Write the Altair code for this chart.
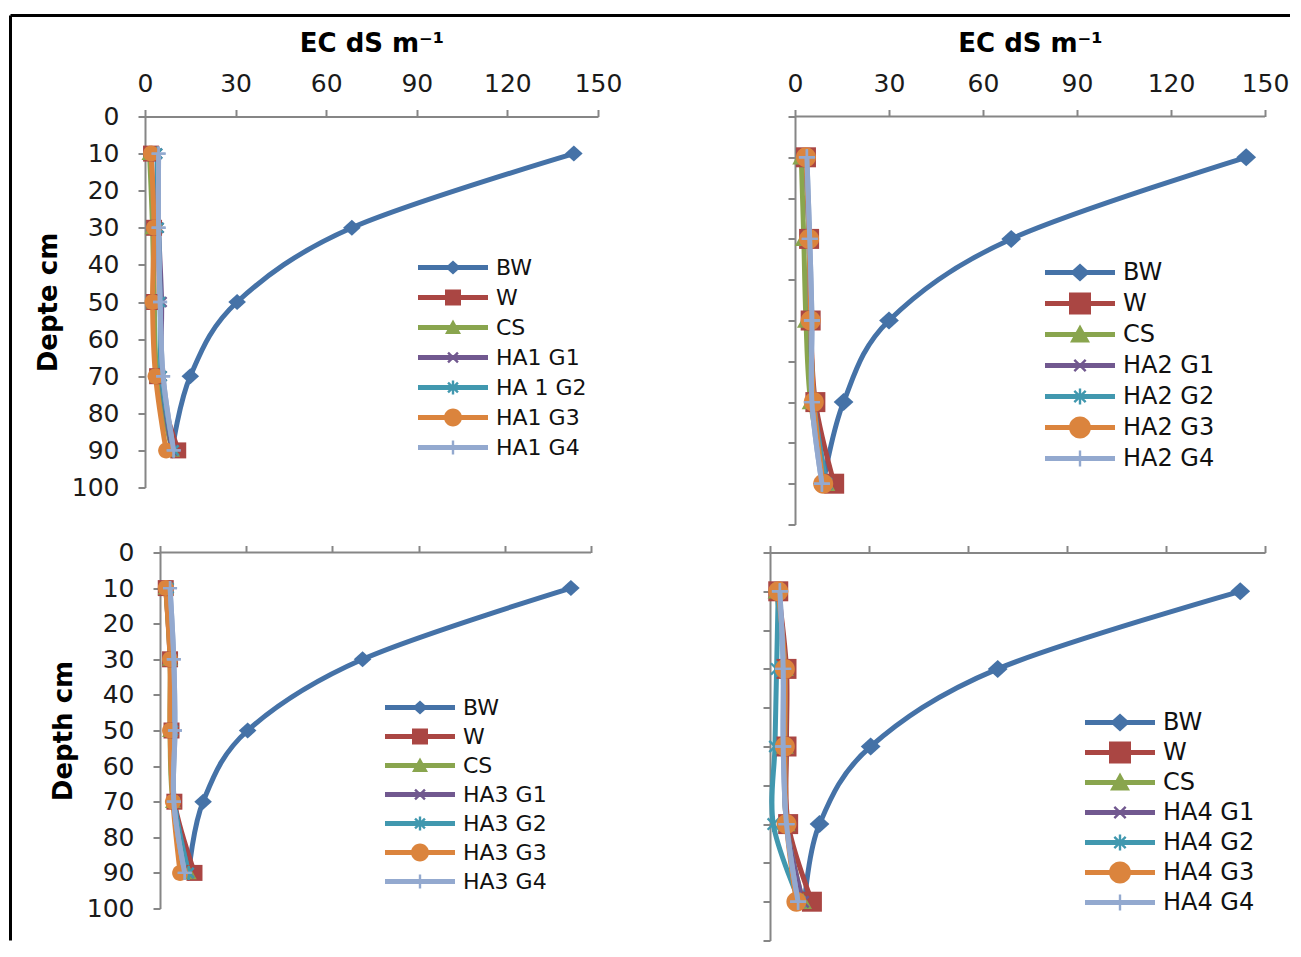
import math
import altair as alt
import pandas as pd

# ---------------- data ----------------
DEPTHS = [10, 30, 50, 70, 90]
COLORS = ["#4572A7", "#AA4643", "#89A54E", "#71588F", "#4198AF", "#DB843D", "#93A9CF"]
IND = "\u2002"

LABELS_HA1 = ["BW", "W", "CS", "HA1 G1", IND + "HA 1 G2", "HA1 G3", "HA1 G4"]
LABELS_HA2 = ["BW", "W", "CS", "HA2 G1", IND + "HA2 G2", "HA2 G3", "HA2 G4"]
LABELS_HA3 = ["BW", "W", "CS", "HA3 G1", IND + "HA3 G2", "HA3 G3", "HA3 G4"]
LABELS_HA4 = ["BW", "W", "CS", "HA4 G1", IND + "HA4 G2", "HA4 G3", "HA4 G4"]

# EC (dS m-1) at depths 10, 30, 50, 70, 90 cm; one row per series (BW, W, CS, G1..G4)
EC_HA1 = [
    [142.0, 68.5, 30.5, 15.0, 9.0],
    [2.0, 3.0, 3.0, 4.0, 11.0],
    [1.5, 2.5, 3.0, 4.0, 9.0],
    [4.0, 4.5, 5.5, 5.5, 9.0],
    [4.0, 4.5, 5.0, 5.5, 9.5],
    [2.0, 3.0, 2.5, 3.5, 7.0],
    [4.5, 4.5, 5.0, 6.0, 9.5],
]
EC_HA2 = [
    [144.0, 69.0, 30.0, 15.5, 9.0],
    [3.5, 4.5, 5.0, 6.5, 12.5],
    [2.0, 2.8, 3.5, 5.0, 10.0],
    [3.5, 4.5, 5.0, 6.0, 10.0],
    [3.5, 4.5, 5.0, 6.0, 10.0],
    [3.5, 4.5, 5.0, 6.0, 9.0],
    [3.8, 4.7, 5.4, 5.4, 8.6],
]
EC_HA3 = [
    [143.0, 70.5, 30.5, 15.0, 10.0],
    [2.0, 3.5, 4.0, 5.0, 12.0],
    [2.0, 3.5, 3.5, 4.5, 10.0],
    [2.5, 4.0, 4.0, 5.0, 10.0],
    [3.0, 4.0, 4.5, 5.0, 10.0],
    [2.0, 3.5, 3.5, 4.5, 7.0],
    [3.5, 4.8, 5.2, 4.8, 8.6],
]
EC_HA4 = [
    [142.5, 69.0, 30.5, 15.0, 10.5],
    [2.5, 5.0, 5.0, 5.5, 12.7],
    [2.0, 4.5, 4.5, 5.0, 10.0],
    [2.5, 4.5, 4.5, 5.0, 10.0],
    [2.5, 2.0, 1.5, 1.0, 9.0],
    [2.5, 4.5, 4.5, 5.0, 8.0],
    [3.0, 4.0, 4.0, 5.0, 8.5],
]

X_TICKS = [0, 30, 60, 90, 120, 150]
Y_TICKS = list(range(0, 101, 10))
X_TITLE = "EC dS m\u207b\u00b9"

FONT = "DejaVu Sans"
AXIS_GREY = "#868686"
KINDS = ["diamond", "square", "triangle", "x", "star", "circle", "plus"]


# ---------------- marker glyphs (SVG paths, pixel units at size=4) ----------------
def fmt(v):
    s = f"{v:.2f}".rstrip("0").rstrip(".")
    return "0" if s in ("-0", "") else s


def poly(pts):
    return "M" + "L".join(f"{fmt(x)},{fmt(y)}" for x, y in pts) + "Z"


def bar(cx, cy, hl, ht, ang):
    a = math.radians(ang)
    c, s = math.cos(a), math.sin(a)
    pts = [(-hl, -ht), (hl, -ht), (hl, ht), (-hl, ht)]
    return poly([(cx + x * c - y * s, cy + x * s + y * c) for x, y in pts])


def marker(kind, cx, s):
    if kind == "diamond":
        return poly([(cx, -s), (cx + s * 1.1, 0), (cx, s), (cx - s * 1.1, 0)])
    if kind == "square":
        return poly([(cx - s, -s), (cx + s, -s), (cx + s, s), (cx - s, s)])
    if kind == "triangle":
        return poly([(cx, -s), (cx + s, 0.8 * s), (cx - s, 0.8 * s)])
    if kind == "x":
        return bar(cx, 0, s, 1.2, 45) + bar(cx, 0, s, 1.2, -45)
    if kind == "star":
        return bar(cx, 0, s, 1.2, 45) + bar(cx, 0, s, 1.2, -45) + bar(cx, 0, s, 1.2, 90)
    if kind == "circle":
        return (f"M{fmt(cx - s)},0A{fmt(s)},{fmt(s)} 0 1,1 {fmt(cx + s)},0"
                f"A{fmt(s)},{fmt(s)} 0 1,1 {fmt(cx - s)},0Z")
    return bar(cx, 0, s, 1.2, 0) + bar(cx, 0, s, 1.2, 90)


def plot_paths(sizes):
    return [marker(k, 0, s) for k, s in zip(KINDS, sizes)]


def legend_paths(sizes, x0, length=70):
    out = []
    for k, s in zip(KINDS, sizes):
        line = poly([(x0, -2.6), (x0 + length, -2.6), (x0 + length, 2.6), (x0, 2.6)])
        out.append(line + marker(k, x0 + length / 2, s))
    return out


def make_legend(lx, ly, fs, rowpad, loff):
    return alt.Legend(
        title=None, orient="none", legendX=lx, legendY=ly, padding=0,
        symbolSize=4, symbolStrokeWidth=0, symbolOpacity=1,
        labelFont=FONT, labelFontSize=fs, labelColor="#111", labelOffset=loff,
        labelLimit=400, rowPadding=rowpad,
    )


def panel(labels, ec, width, height, x_min, y_offset, x_labels, y_labels, y_title,
          mk_sizes, lg_sizes, lg_fs, lg_x, lg_y, lg_row, border=False):
    rows = []
    for si, (lab, vals) in enumerate(zip(labels, ec)):
        for d, v in zip(DEPTHS, vals):
            rows.append({"label": lab, "s": si, "depth": d, "ec": v})
    df = pd.DataFrame(rows)
    shifted = x_min < 0

    x_kw = dict(
        orient="top", values=X_TICKS, labels=x_labels, title=X_TITLE if x_labels else None,
        labelFlush=False, labelOverlap=False, labelPadding=13, titlePadding=15,
        domain=not shifted,
    )
    if shifted and x_labels:
        x_kw["titleX"] = (-y_offset + width) / 2
    x_axis = alt.Axis(**x_kw)
    y_axis = alt.Axis(
        orient="left", values=Y_TICKS, labels=y_labels, labelFlush=False, labelOverlap=False,
        labelPadding=19, titlePadding=10, title=y_title, offset=y_offset,
    )

    x = alt.X("ec:Q", scale=alt.Scale(domain=[x_min, 150], nice=False, zero=False), axis=x_axis)
    y = alt.Y("depth:Q", scale=alt.Scale(domain=[0, 100], reverse=True, nice=False, zero=False),
              axis=y_axis)
    color = alt.Color("label:N", scale=alt.Scale(domain=labels, range=COLORS), legend=None)
    shape = alt.Shape("label:N", scale=alt.Scale(domain=labels, range=plot_paths(mk_sizes)),
                      legend=None)

    base = alt.Chart(df)
    lines = base.mark_line(interpolate="cardinal", strokeWidth=5).encode(
        x=x, y=y, color=color, order="depth:Q")
    points = base.mark_point(filled=True, size=4, opacity=1, strokeWidth=0).encode(
        x=x, y=y, color=color, shape=shape)
    top = base.transform_filter(alt.datum.s == 6)
    top_line = top.mark_line(interpolate="cardinal", strokeWidth=5).encode(
        x=x, y=y, color=color, order="depth:Q")
    top_pts = top.mark_point(filled=True, size=4, opacity=1, strokeWidth=0).encode(
        x=x, y=y, color=color, shape=shape)

    # legend-only layer: no marks, own colour/shape scales whose shapes are line+marker glyphs
    legend = make_legend(lg_x, lg_y, lg_fs, lg_row, 70 - lg_fs + 8)
    lg_layer = base.transform_filter("false").mark_point(
        filled=True, size=4, opacity=1, strokeWidth=0).encode(
        color=alt.Color("label:N", scale=alt.Scale(domain=labels, range=COLORS), legend=legend),
        shape=alt.Shape("label:N",
                        scale=alt.Scale(domain=labels, range=legend_paths(lg_sizes, -lg_fs / 2)),
                        legend=legend),
    )
    layers = []
    one = alt.Chart(pd.DataFrame({"k": [0]}))
    if shifted:
        # x axis line drawn from 0 to 150 through the x scale
        layers.append(one.mark_rule(color=AXIS_GREY, strokeWidth=2).encode(
            x=alt.X(datum=0), x2=alt.X2(datum=150), y=alt.value(0)))
    layers += [lines, points, top_line, top_pts, lg_layer]
    if border:
        layers.append(one.mark_rule(color="#000", strokeWidth=3).encode(
            x=alt.value(-134.5), x2=alt.value(1145), y=alt.value(-101)))
        layers.append(one.mark_rule(color="#000", strokeWidth=3).encode(
            x=alt.value(-134.5), y=alt.value(-101), y2=alt.value(824)))
    return alt.layer(*layers).resolve_scale(
        color="independent", shape="independent").properties(width=width, height=height)


SMALL_MK = [8, 8, 8, 7, 7, 8, 7]
BIG_MK = [9, 10, 9, 8, 8, 10, 8]
SMALL_LG = [7, 8, 8, 7, 7, 9, 7]
BIG_LG = [9, 11, 10, 8, 8, 11, 8]

# column 1 starts at page x 145, column 2 at page x 770
tl = panel(LABELS_HA1, EC_HA1, 453, 371, 0, 0, True, True, "Depte cm",
           SMALL_MK, SMALL_LG, 22, 273, 140, 8, border=True)
tr = panel(LABELS_HA2, EC_HA2, 495, 408, -7.979, -25, True, False, None,
           BIG_MK, BIG_LG, 24, 275, 144, 7)
bl = panel(LABELS_HA3, EC_HA3, 446, 356, -5.2204, -15, False, True, "Depth cm",
           SMALL_MK, SMALL_LG, 22, 240, 144, 7)
br = panel(LABELS_HA4, EC_HA4, 495, 388, 0, 0, False, False, None,
           BIG_MK, BIG_LG, 24, 315, 158, 6)

chart = alt.concat(
    tl, tr, bl, br, columns=2, bounds="flush",
    spacing={"row": 28, "column": 172},
).resolve_scale(
    x="independent", y="independent", color="independent", shape="independent"
).properties(
    padding={"left": 1, "top": 5.5, "right": 0, "bottom": 0},
    background="#ffffff",
).configure_view(stroke=None).configure_axis(
    grid=False,
    domainColor=AXIS_GREY, domainWidth=2,
    tickColor=AXIS_GREY, tickWidth=2, tickSize=7,
    labelFont=FONT, labelFontSize=25, labelColor="#1a1a1a",
    titleFont=FONT, titleFontSize=26, titleFontWeight="bold", titleColor="#000",
)

chart.save("out.html", embed_options={"renderer": "svg", "actions": False})
